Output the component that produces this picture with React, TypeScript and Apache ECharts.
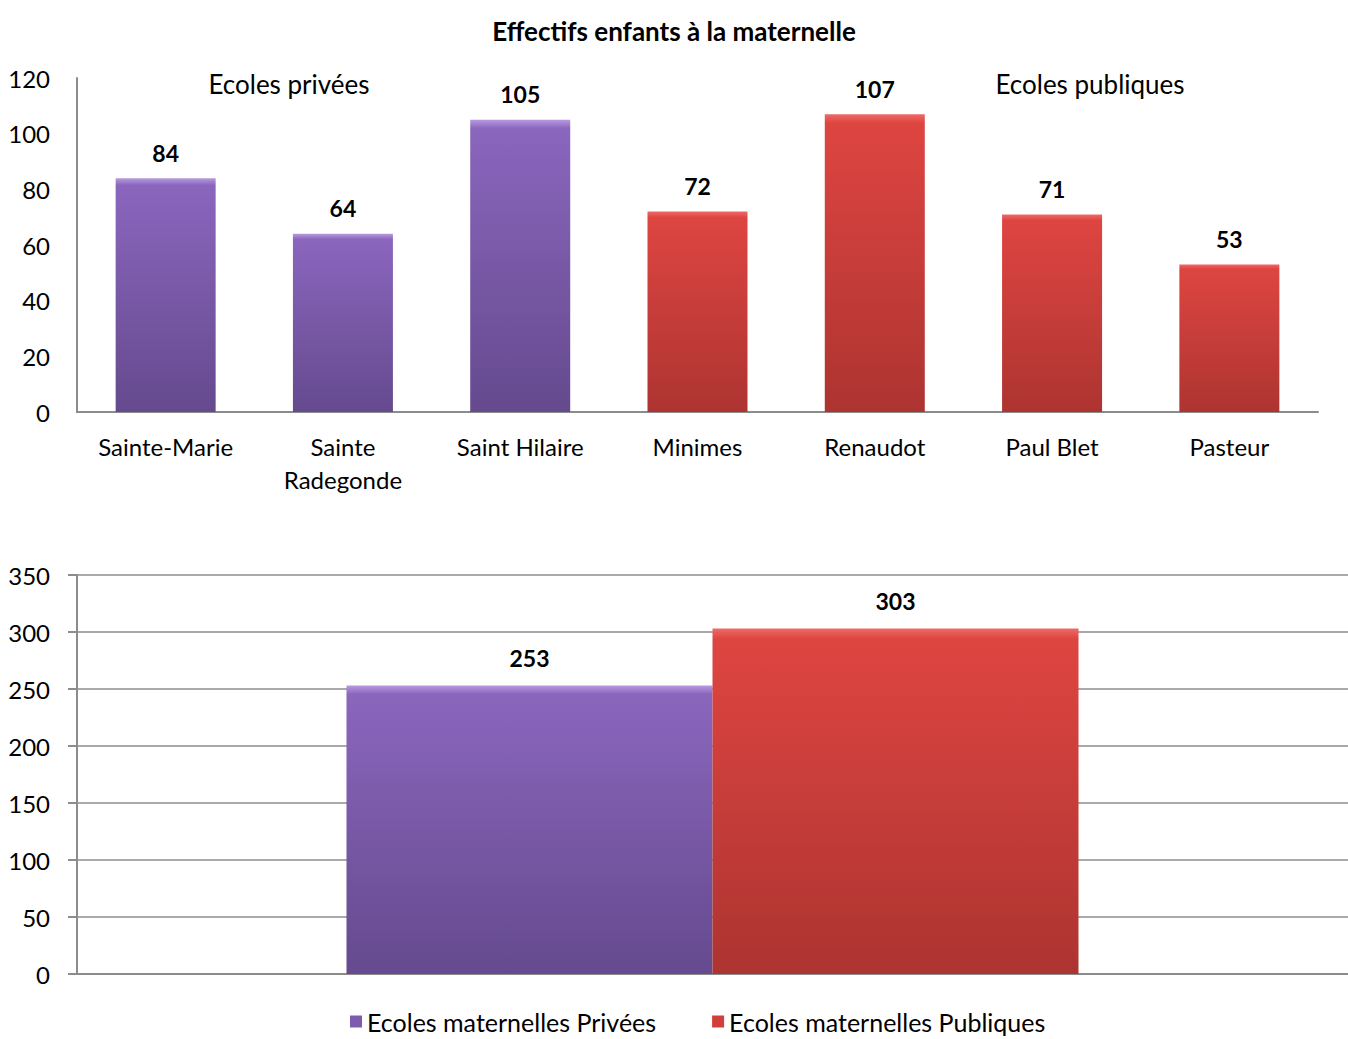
import React, { useEffect, useRef } from "react";
import * as echarts from "echarts";

const TITLE = "Effectifs enfants à la maternelle";
const schools = ["Sainte-Marie", "Sainte\nRadegonde", "Saint Hilaire", "Minimes", "Renaudot", "Paul Blet", "Pasteur"];
const schoolValues = [84, 64, 105, 72, 107, 71, 53];
const schoolGroup = ["privee", "privee", "privee", "publique", "publique", "publique", "publique"];
const topTicks = [0, 20, 40, 60, 80, 100, 120];

const totalCategory = ["Total"];
const totalSeriesNames = ["Ecoles maternelles Privées", "Ecoles maternelles Publiques"];
const totalPrivees = [253];
const totalPubliques = [303];
const bottomTicks = [0, 50, 100, 150, 200, 250, 300, 350];

const FONT = "Lato, 'Open Sans', sans-serif";

const purple = new echarts.graphic.LinearGradient(0, 0, 0, 1, [
  { offset: 0, color: "#b79ae0" },
  { offset: 0.03, color: "#8a66bd" },
  { offset: 1, color: "#654a8e" },
]);
const red = new echarts.graphic.LinearGradient(0, 0, 0, 1, [
  { offset: 0, color: "#ee6a66" },
  { offset: 0.03, color: "#de4541" },
  { offset: 1, color: "#ad3431" },
]);
const purpleLegend = "#7d5cb0";
const redLegend = "#d23f3b";

export default function App() {
  const ref = useRef<HTMLDivElement>(null);
  useEffect(() => {
    const chart = echarts.init(ref.current!, null, { renderer: "svg" });
    const axisGrey = "#8c8c8c";
    const labelStyle = { fontFamily: FONT, fontWeight: "bold", fontSize: 23, color: "#000" };
    chart.setOption({
      animation: false,
      backgroundColor: "#ffffff",
      title: {
        text: TITLE,
        left: "center",
        top: 13,
        textStyle: { fontFamily: FONT, fontWeight: "bold", fontSize: 26, color: "#000" },
      },
      graphic: [
        {
          type: "text",
          x: 289,
          y: 84,
          style: { text: "Ecoles privées", font: `26px ${FONT}`, fill: "#000", textAlign: "center", textVerticalAlign: "middle" },
        },
        {
          type: "text",
          x: 1090,
          y: 84,
          style: { text: "Ecoles publiques", font: `26px ${FONT}`, fill: "#000", textAlign: "center", textVerticalAlign: "middle" },
        },
      ],
      legend: {
        data: [
          { name: totalSeriesNames[0], itemStyle: { color: purpleLegend } },
          { name: totalSeriesNames[1], itemStyle: { color: redLegend } },
        ],
        bottom: 0,
        left: 345,
        icon: "rect",
        itemWidth: 12,
        itemHeight: 12,
        itemGap: 56,
        textStyle: { fontFamily: FONT, fontSize: 25, color: "#000", padding: [0, 0, 0, 0] },
      },
      grid: [
        { left: 77, right: 30, top: 78, bottom: 627 },
        { left: 77, width: 1280, top: 575, bottom: 65 },
      ],
      xAxis: [
        {
          type: "category",
          gridIndex: 0,
          data: schools,
          axisLine: { lineStyle: { color: axisGrey, width: 2 } },
          axisTick: { show: false },
          axisLabel: { fontFamily: FONT, fontSize: 24, color: "#000", lineHeight: 33, margin: 18 },
        },
        {
          type: "category",
          gridIndex: 1,
          data: totalCategory,
          axisLine: { lineStyle: { color: axisGrey, width: 2 } },
          axisTick: { show: false },
          axisLabel: { show: false },
        },
      ],
      yAxis: [
        {
          type: "value",
          gridIndex: 0,
          min: topTicks[0],
          max: topTicks[topTicks.length - 1],
          interval: 20,
          axisLine: { show: true, lineStyle: { color: axisGrey, width: 2 } },
          axisTick: { show: false },
          splitLine: { show: false },
          axisLabel: { fontFamily: FONT, fontSize: 24, color: "#000", margin: 27 },
        },
        {
          type: "value",
          gridIndex: 1,
          min: bottomTicks[0],
          max: bottomTicks[bottomTicks.length - 1],
          interval: 50,
          axisLine: { show: true, lineStyle: { color: axisGrey, width: 2 } },
          axisTick: { show: true, inside: false, length: 9, lineStyle: { color: axisGrey, width: 2 } },
          splitLine: { show: true, lineStyle: { color: axisGrey, width: 1.5 } },
          axisLabel: { fontFamily: FONT, fontSize: 24, color: "#000", margin: 27 },
        },
      ],
      series: [
        {
          type: "bar",
          xAxisIndex: 0,
          yAxisIndex: 0,
          barWidth: 100,
          data: schoolValues.map((v, i) => ({
            value: v,
            itemStyle: { color: schoolGroup[i] === "privee" ? purple : red },
          })),
          label: { show: true, position: "top", distance: 14, ...labelStyle },
        },
        {
          name: totalSeriesNames[0],
          type: "bar",
          xAxisIndex: 1,
          yAxisIndex: 1,
          barWidth: 366,
          barGap: "0%",
          data: totalPrivees,
          itemStyle: { color: purple },
          label: { show: true, position: "top", distance: 16, ...labelStyle },
        },
        {
          name: totalSeriesNames[1],
          type: "bar",
          xAxisIndex: 1,
          yAxisIndex: 1,
          barWidth: 366,
          barGap: "0%",
          data: totalPubliques,
          itemStyle: { color: red },
          label: { show: true, position: "top", distance: 16, ...labelStyle },
        },
      ],
    });
    return () => chart.dispose();
  }, []);
  return <div ref={ref} style={{ position: "fixed", left: 0, top: 0, width: 1348, height: 1039 }} />;
}
